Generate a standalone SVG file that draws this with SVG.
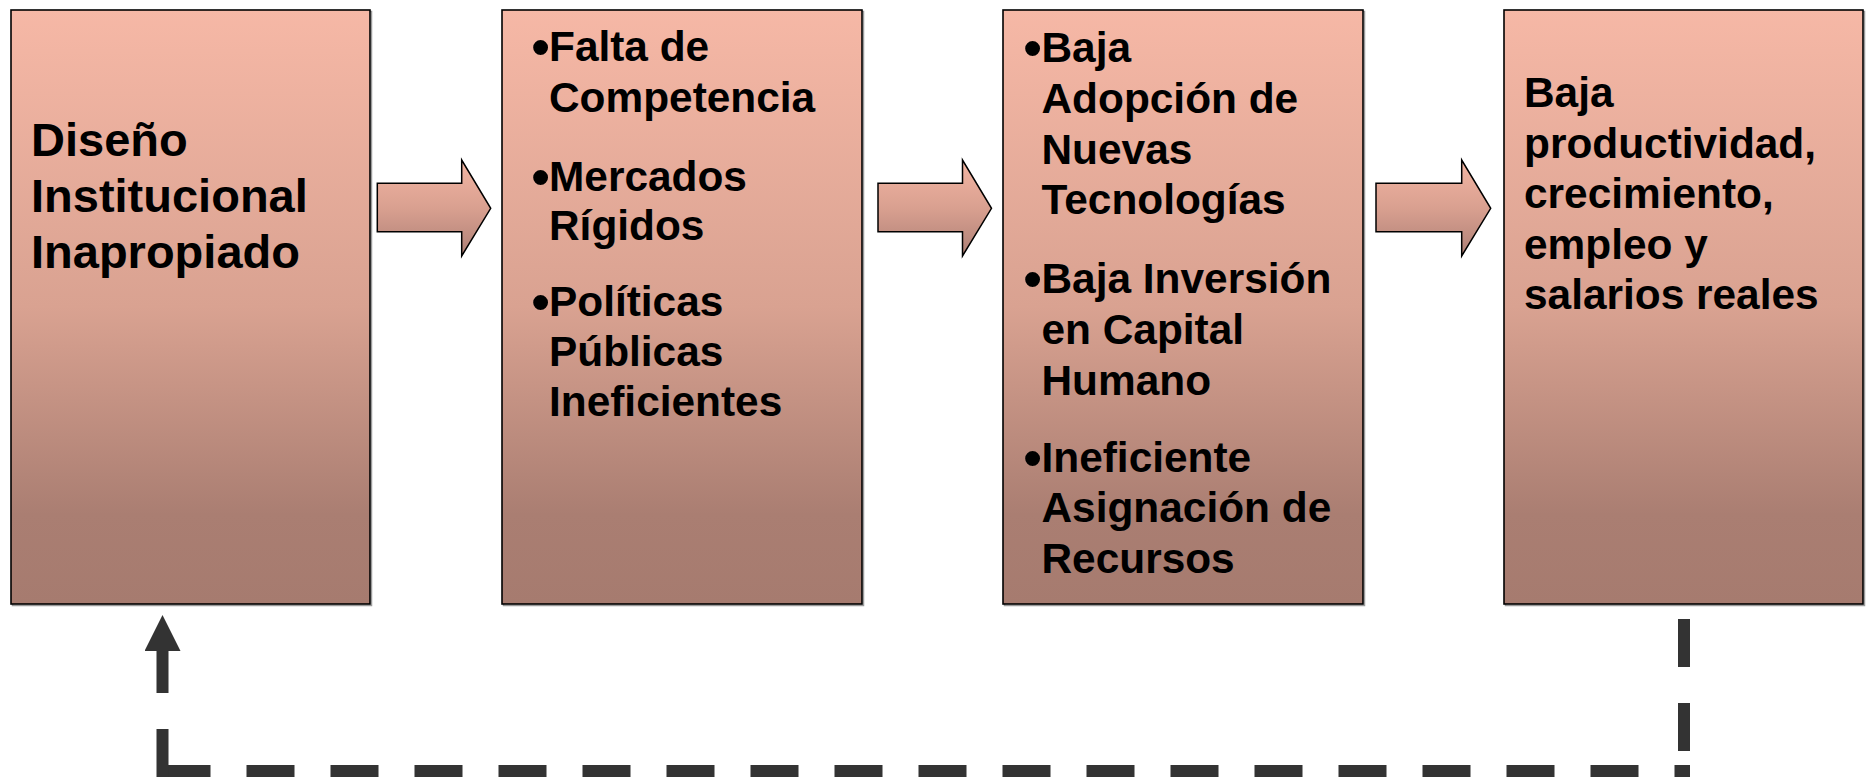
<svg xmlns="http://www.w3.org/2000/svg" width="1866" height="778" viewBox="0 0 1866 778">
  <defs>
    <linearGradient id="boxGrad" x1="0" y1="0" x2="0" y2="1">
      <stop offset="0" stop-color="#F6B8A6"/>
      <stop offset="0.5" stop-color="#D9A291"/>
      <stop offset="0.85" stop-color="#AA7E72"/>
      <stop offset="1" stop-color="#A67B6F"/>
    </linearGradient>
    <linearGradient id="arrowGrad" x1="0" y1="0" x2="0" y2="1">
      <stop offset="0" stop-color="#F3B5A3"/>
      <stop offset="0.5" stop-color="#D9A090"/>
      <stop offset="1" stop-color="#AE8076"/>
    </linearGradient>
    <marker id="fbHead" markerUnits="userSpaceOnUse" markerWidth="36" markerHeight="36" viewBox="0 0 36 36" refX="0" refY="18" orient="auto">
      <path d="M0,0 L36,18 L0,36 Z" fill="#333333"/>
    </marker>
  </defs>
  <style>
    .box { fill: url(#boxGrad); stroke: #000000; stroke-width: 1.6; }
    .shadow { fill: none; stroke: #9a9a9a; stroke-width: 1.5; }
    .flow { fill: url(#arrowGrad); stroke: #000000; stroke-width: 1.5; stroke-linejoin: miter; }
    .t1 { font-family: "Liberation Sans", Arial, sans-serif; font-weight: bold; font-size: 47px; fill: #000000; }
    .t { font-family: "Liberation Sans", Arial, sans-serif; font-weight: bold; font-size: 42.4px; fill: #000000; }
    .b { font-family: "Liberation Sans", Arial, sans-serif; font-weight: bold; font-size: 52px; fill: #000000; }
    .dash { fill: none; stroke: #333333; stroke-width: 12; stroke-dasharray: 48 36; stroke-linecap: butt; }
  </style>

  <g id="node-diseno">
    <rect class="shadow" x="12.5" y="11.5" width="359" height="594"/>
    <rect class="box" x="11" y="10" width="359" height="594"/>
    <text class="t1" x="31" y="155.7">Diseño</text>
    <text class="t1" x="31" y="211.7">Institucional</text>
    <text class="t1" x="31" y="268">Inapropiado</text>
  </g>

  <g id="node-causas">
    <rect class="shadow" x="503.5" y="11.5" width="360" height="594"/>
    <rect class="box" x="502" y="10" width="360" height="594"/>
    <text class="b" x="531.5" y="65">•</text><text class="t" x="549" y="61">Falta de</text>
    <text class="t" x="549" y="112">Competencia</text>
    <text class="b" x="531.5" y="195">•</text><text class="t" x="549" y="191">Mercados</text>
    <text class="t" x="549" y="240">Rígidos</text>
    <text class="b" x="531.5" y="320">•</text><text class="t" x="549" y="316">Políticas</text>
    <text class="t" x="549" y="366">Públicas</text>
    <text class="t" x="549" y="416">Ineficientes</text>
  </g>

  <g id="node-efectos">
    <rect class="shadow" x="1004.5" y="11.5" width="360" height="594"/>
    <rect class="box" x="1003" y="10" width="360" height="594"/>
    <text class="b" x="1023.5" y="65.5">•</text><text class="t" x="1041.5" y="62">Baja</text>
    <text class="t" x="1041.5" y="113">Adopción de</text>
    <text class="t" x="1041.5" y="164">Nuevas</text>
    <text class="t" x="1041.5" y="214">Tecnologías</text>
    <text class="b" x="1023.5" y="296.5">•</text><text class="t" x="1041.5" y="293">Baja Inversión</text>
    <text class="t" x="1041.5" y="344">en Capital</text>
    <text class="t" x="1041.5" y="395">Humano</text>
    <text class="b" x="1023.5" y="475.5">•</text><text class="t" x="1041.5" y="472">Ineficiente</text>
    <text class="t" x="1041.5" y="522">Asignación de</text>
    <text class="t" x="1041.5" y="573">Recursos</text>
  </g>

  <g id="node-resultado">
    <rect class="shadow" x="1505.5" y="11.5" width="359" height="594"/>
    <rect class="box" x="1504" y="10" width="359" height="594"/>
    <text class="t" x="1524" y="107">Baja</text>
    <text class="t" x="1524" y="157.5">productividad,</text>
    <text class="t" x="1524" y="208">crecimiento,</text>
    <text class="t" x="1524" y="258.5">empleo y</text>
    <text class="t" x="1524" y="309">salarios reales</text>
  </g>

  <g id="connectors">
    <path class="flow" d="M377.3,183.3 H461.7 V160 L490.7,208.3 L461.7,256 V231.7 H377.3 Z"/>
    <path class="flow" d="M878,183.3 H962.5 V160 L991.5,208.3 L962.5,256 V231.7 H878 Z"/>
    <path class="flow" d="M1376,183.3 H1461.7 V160 L1490.7,208.3 L1461.7,256 V231.7 H1376 Z"/>
    <line class="dash" x1="1684" y1="619" x2="1684" y2="771"/>
    <line class="dash" x1="162.5" y1="771" x2="1690" y2="771"/>
    <line class="dash" x1="162.5" y1="777" x2="162.5" y2="651" marker-end="url(#fbHead)"/>
  </g>
</svg>
